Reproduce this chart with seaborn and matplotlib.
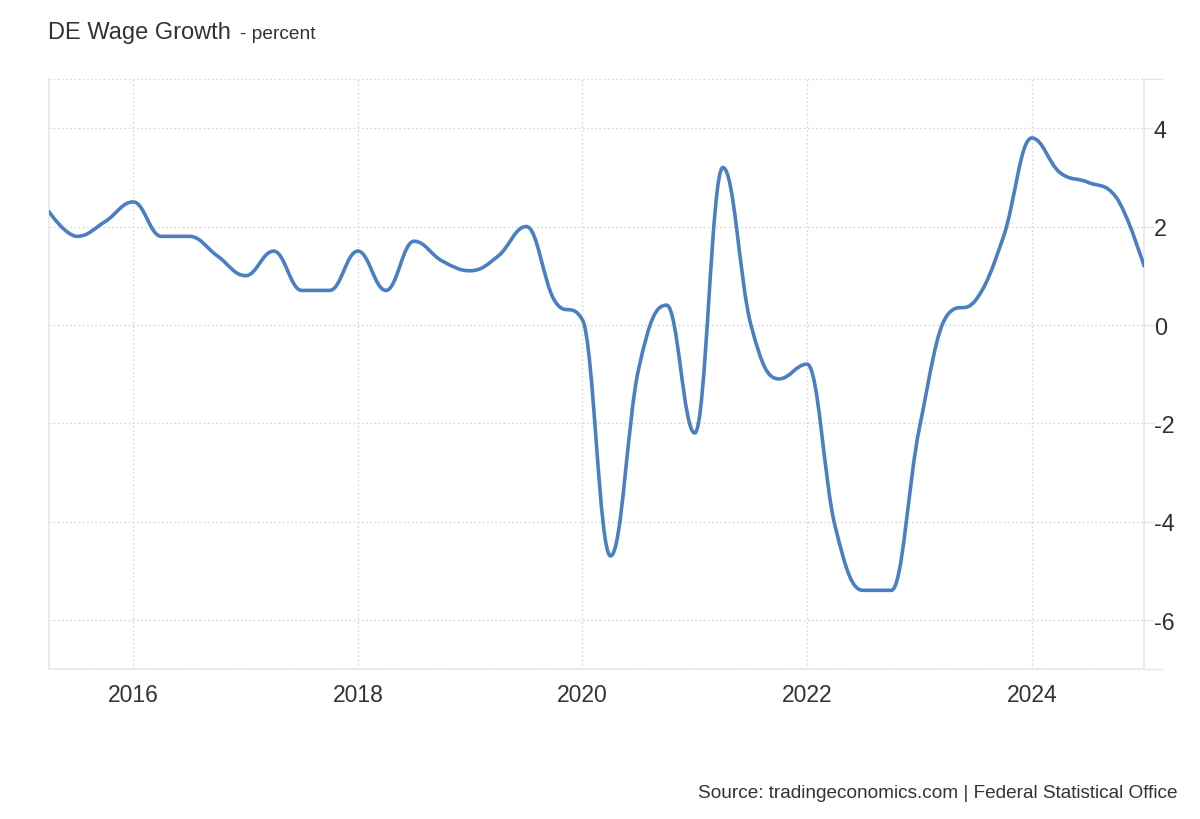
import matplotlib
matplotlib.use("Agg")
import matplotlib.pyplot as plt
from matplotlib.path import Path
from matplotlib.patches import PathPatch
import numpy as np
import pandas as pd
import seaborn as sns

# quarterly real wage growth, 2015Q2 .. 2025Q1
quarters = pd.period_range("2015Q2", "2025Q1", freq="Q")
wage_growth = [
    2.3, 1.8, 2.1,
    2.5, 1.8, 1.8, 1.4,
    1.0, 1.5, 0.7, 0.7,
    1.5, 0.7, 1.7, 1.3,
    1.1, 1.4, 2.0, 0.5,
    0.1, -4.7, -0.9, 0.4,
    -2.2, 3.2, 0.0, -1.1,
    -0.8, -4.1, -5.4, -5.4,
    -2.1, 0.2, 0.5, 1.8,
    3.8, 3.1, 2.9, 2.6,
    1.2,
]
year_ticks = [2016, 2018, 2020, 2022, 2024]
value_ticks = [-6, -4, -2, 0, 2, 4]

df = pd.DataFrame({
    "t": quarters.year + (quarters.quarter - 1) / 4,
    "value": wage_growth,
})


def spline_path(xs, ys):
    # smooth curve through the points (same control point rule as a highcharts spline)
    n = len(xs)
    left = [None] * n
    right = [None] * n
    for i in range(1, n - 1):
        x, y = xs[i], ys[i]
        lx, ly = xs[i - 1], ys[i - 1]
        nx, ny = xs[i + 1], ys[i + 1]
        lcx = (1.5 * x + lx) / 2.5
        lcy = (1.5 * y + ly) / 2.5
        rcx = (1.5 * x + nx) / 2.5
        rcy = (1.5 * y + ny) / 2.5
        corr = (rcy - lcy) * (rcx - x) / (rcx - lcx) + y - rcy
        lcy += corr
        rcy += corr
        if lcy > ly and lcy > y:
            lcy = max(ly, y)
            rcy = 2 * y - lcy
        elif lcy < ly and lcy < y:
            lcy = min(ly, y)
            rcy = 2 * y - lcy
        if rcy > ny and rcy > y:
            rcy = max(ny, y)
            lcy = 2 * y - rcy
        elif rcy < ny and rcy < y:
            rcy = min(ny, y)
            lcy = 2 * y - rcy
        left[i] = (lcx, lcy)
        right[i] = (rcx, rcy)
    verts = [(xs[0], ys[0])]
    codes = [Path.MOVETO]
    for i in range(1, n):
        verts.append(right[i - 1] or (xs[i - 1], ys[i - 1]))
        verts.append(left[i] or (xs[i], ys[i]))
        verts.append((xs[i], ys[i]))
        codes += [Path.CURVE4] * 3
    return Path(verts, codes)


sns.set_theme(style="white")
plt.rcParams['font.family'] = ['Liberation Sans', 'DejaVu Sans']

fig = plt.figure(figsize=(12, 8.2), dpi=100)
ax = fig.add_axes([49 / 1200, 1 - 670 / 820, (1144 - 49) / 1200, (670 - 80) / 820])

path = spline_path(df["t"].to_numpy(), df["value"].to_numpy())
ax.add_patch(PathPatch(path, fill=False, edgecolor="#4a80c1", linewidth=2.6,
                       capstyle="round", joinstyle="round", zorder=3))

ax.set_xlim(df["t"].iloc[0], df["t"].iloc[-1])
ax.set_ylim(-7, 5)

ax.set_xticks(year_ticks)
ax.set_xticklabels([str(y) for y in year_ticks])
ax.set_yticks(value_ticks)
ax.set_yticklabels([str(v) for v in value_ticks])
ax.set_yticks([-7, 5], minor=True)

ax.yaxis.tick_right()
ax.tick_params(axis="x", length=0, pad=10, labelsize=16.5, colors="#333333")
ax.tick_params(axis="y", which="major", length=7, width=1, color="#e6e6e6",
               pad=0, labelsize=16.8, labelcolor="#333333", right=True, left=False)
ax.tick_params(axis="y", which="minor", length=14, width=1, color="#e6e6e6",
               right=True, left=False)

grid_kw = dict(color="#d6d6d6", linewidth=1, linestyle=(0, (1.2, 1.8)))
ax.grid(True, axis="both", which="major", **grid_kw)
ax.grid(True, axis="y", which="minor", **grid_kw)

for side in ["left", "bottom", "right"]:
    ax.spines[side].set_color("#e6e6e6")
    ax.spines[side].set_linewidth(1.2)
ax.spines["top"].set_visible(False)

fig.text(48 / 1200, 1 - 39 / 820, "DE Wage Growth", fontsize=17,
         color="#333333", va="baseline", ha="left")
fig.text(240 / 1200, 1 - 39 / 820, "- percent", fontsize=13.8,
         color="#333333", va="baseline", ha="left")
fig.text(1178 / 1200, 1 - 798 / 820,
         "Source: tradingeconomics.com | Federal Statistical Office",
         fontsize=13.7, color="#333333", va="baseline", ha="right")

fig.savefig("out.png", dpi=100, facecolor="white")
